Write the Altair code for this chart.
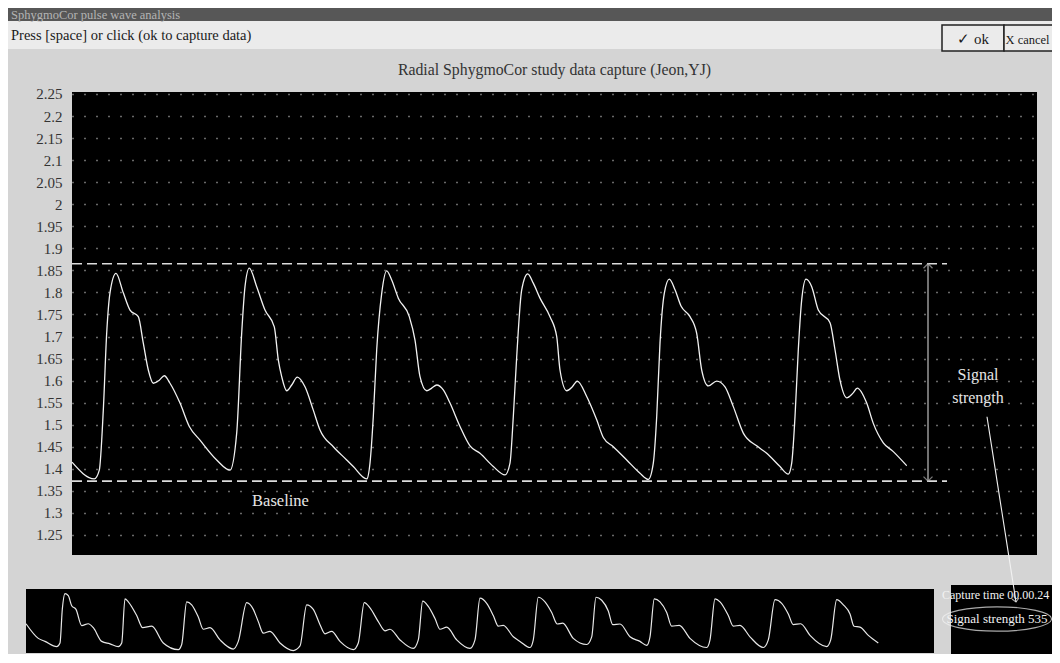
import altair as alt
import pandas as pd

FONT = "Liberation Serif"

# ---------------- texts ----------------
window_title = "SphygmoCor pulse wave analysis"
prompt_text = "Press [space] or click (ok to capture data)"
ok_label = "\u2713 ok"
cancel_label = "X cancel"
chart_title = "Radial SphygmoCor study data capture (Jeon,YJ)"
capture_time_label = "Capture time 00.00.24"
signal_label = "Signal strength 535"
baseline_label = "Baseline"
signal_strength_lines = ["Signal", "strength"]

# ---------------- y tick labels ----------------
y_ticks = [2.25, 2.2, 2.15, 2.1, 2.05, 2.0, 1.95, 1.9, 1.85, 1.8, 1.75, 1.7,
           1.65, 1.6, 1.55, 1.5, 1.45, 1.4, 1.35, 1.3, 1.25]

# ---------------- main radial waveform (sample, value) ----------------
wave_t = [0, 22.3, 27.3, 31.3, 34.7, 38, 44, 51.3, 58, 66.3, 71.3, 76.3, 81.3, 87.3, 92.3, 98,
          108, 117.3, 128, 144.7, 158,
          164.7, 169.7, 173, 177.3, 184.7, 193, 202.3, 206.3, 209.7, 214.7, 219.7, 225.3, 233,
          241.3, 248, 261.3, 274.7, 281.3, 294.7,
          298, 301.3, 304.7, 309.7, 314.7, 319.7, 326.3, 337.3, 343, 348, 354.7, 359.7, 364.7,
          371.3, 378, 388, 398, 408, 421.3, 433,
          438, 441.3, 444.7, 449.7, 455.7, 461.3, 468, 478, 484.7, 488, 494.7, 500.3, 505.3,
          514.7, 524.7, 531.3, 541.3, 554.7, 568, 576.3,
          581.3, 584.7, 588, 592.3, 597.3, 603, 609, 618, 624.7, 629.7, 636.3, 644.7, 653,
          661.3, 671.3, 684.7, 694.7, 708, 716.3,
          719.7, 723, 726.3, 729.7, 734, 739.7, 746.3, 758, 763, 768, 774.7, 780.7, 785.3,
          794.7, 801.3, 811.3, 821.3, 834.7]
wave_v = [1.415, 1.377, 1.397, 1.533, 1.708, 1.799, 1.843, 1.799, 1.760, 1.745, 1.685, 1.624,
          1.594, 1.601, 1.611, 1.594, 1.549, 1.496, 1.465, 1.420, 1.397,
          1.481, 1.708, 1.813, 1.855, 1.813, 1.760, 1.722, 1.647, 1.609, 1.577, 1.590, 1.608,
          1.586, 1.533, 1.488, 1.450, 1.420, 1.405, 1.377,
          1.413, 1.518, 1.670, 1.798, 1.849, 1.828, 1.787, 1.745, 1.692, 1.609, 1.577, 1.583,
          1.590, 1.579, 1.549, 1.496, 1.452, 1.435, 1.405, 1.386,
          1.413, 1.518, 1.654, 1.806, 1.842, 1.821, 1.787, 1.745, 1.700, 1.624, 1.577, 1.586,
          1.599, 1.564, 1.511, 1.471, 1.450, 1.420, 1.390, 1.376,
          1.413, 1.518, 1.685, 1.798, 1.830, 1.806, 1.769, 1.745, 1.707, 1.624, 1.588, 1.599,
          1.586, 1.541, 1.481, 1.452, 1.435, 1.405, 1.388,
          1.413, 1.518, 1.670, 1.783, 1.830, 1.813, 1.760, 1.731, 1.670, 1.601, 1.561, 1.571,
          1.583, 1.549, 1.503, 1.459, 1.439, 1.407]

# ---------------- overview strip waveform (sample, amplitude) ----------------
strip_t = [0, 12.3, 19, 30.7, 34, 36.3, 39, 42.3, 45.7, 50, 55.7, 62.3, 67.3, 75.7, 84, 92.3,
           95.7, 99, 102.3, 110.7, 116.7, 125.7, 137.3, 152.3,
           155.7, 160.7, 165.7, 172.3, 177.3, 184, 194, 207.3,
           212.3, 220.7, 227.3, 232.3, 237.3, 244, 254, 267.3,
           274, 280.7, 287.3, 294, 299, 305.7, 314, 327.3,
           332.3, 338.3, 344, 352.3, 359, 364, 374, 387.3,
           392.3, 396.7, 402.3, 409, 414, 420.7, 430.7, 444,
           449, 454, 460.7, 467.3, 472.3, 477.3, 487.3, 494, 504,
           507.3, 512.3, 519, 525.7, 531.3, 536.7, 547.3, 560.7,
           565.7, 570, 575.7, 582.3, 586.7, 594, 604, 614, 620.7,
           624, 628.3, 634, 640.7, 645.7, 653.3, 664, 680.7,
           684, 689, 694, 702.3, 707.3, 714, 724, 737.3,
           742.3, 749, 755.7, 762.3, 767.3, 774.7, 784, 800.7,
           804.7, 810.7, 817.3, 824, 828, 834, 842.3, 852.3]
strip_a = [32, 16, 12.7, 7, 11, 47.7, 65, 62.7, 51.7, 47.7, 30, 32, 27.7, 12.7, 10, 7,
           11, 59.3, 56, 41, 27.7, 29.3, 11, 3.7,
           9.3, 56, 52.7, 39.3, 26, 27.7, 14.3, 4.3,
           12.7, 55, 47.7, 34.3, 21.7, 23.7, 11, 2.7,
           7.7, 52.7, 47.7, 31, 21, 23.7, 12.7, 3.7,
           11, 55, 49.3, 34.3, 24.3, 26, 14.3, 5,
           14.3, 56.7, 51, 37.7, 26, 28.3, 14.3, 5,
           14.3, 60, 54.3, 41, 29.3, 30.3, 17.7, 12.7, 6,
           14.3, 61, 56, 44.3, 31.7, 32.7, 16, 9.3,
           17.7, 61, 57.7, 46, 31, 31.7, 17.7, 12.7, 8.3,
           17.7, 59.3, 56, 44.3, 29.3, 30.3, 16, 6,
           14.3, 59.3, 56, 41, 29.3, 30.3, 17.7, 6,
           14.3, 58.3, 54.3, 42.7, 31, 32, 19.3, 7,
           14.3, 58.3, 52.7, 42.7, 29.3, 28.3, 19.3, 11]

# ---------------- annotation values ----------------
top_level = 1.865
base_level = 1.372
level_extent = [0, 875]
arrow_t = 856
pointer_t = [915, 944]
pointer_v = [1.518, 1.098]
baseline_label_t = 208.5
baseline_label_v = 1.327
signal_text_t = 906
signal_text_v = [1.613, 1.561]

# ---------------- scales ----------------
X_MAIN = alt.Scale(domain=[0, 965], nice=False, zero=False)
Y_MAIN = alt.Scale(domain=[1.2045, 2.2545], nice=False, zero=False)
X_STRIP = alt.Scale(domain=[0, 908], range=[-46, 862], nice=False, zero=False)
Y_STRIP = alt.Scale(domain=[0, 70], range=[561, 497], nice=False, zero=False)

one = pd.DataFrame({"k": [0]})


def box(x0, x1, y0, y1, **kw):
    return alt.Chart(one).mark_rect(**kw).encode(
        x=alt.value(x0), x2=alt.value(x1), y=alt.value(y0), y2=alt.value(y1))


def label(text, x, y, size=15, color="#222", align="left", baseline="alphabetic"):
    return alt.Chart(pd.DataFrame({"label": [text]})).mark_text(
        font=FONT, fontSize=size, color=color, align=align, baseline=baseline
    ).encode(x=alt.value(x), y=alt.value(y), text="label:N")


# header
dark_bar = box(-64, 990, -84, -71, color="#575757")
light_bar = box(-64, 990, -71, -43, color="#ebebeb")
ok_btn = box(870, 932, -67, -41, fill="#ebebeb", stroke="#222", strokeWidth=1.5)
cancel_btn = box(932, 992, -67, -41, fill="#ebebeb", stroke="#222", strokeWidth=1.5)
t_window = label(window_title, -61, -72.8, size=12.5, color="#b4b4b4")
t_prompt = label(prompt_text, -61, -52, size=14.5, color="#1a1a1a")
t_ok = label(ok_label, 901, -48, color="#1a1a1a", align="center")
t_cancel = label(cancel_label, 933.5, -48, size=12.5, color="#1a1a1a")
t_title = label(chart_title, 482.5, -17, size=15.8, color="#333", align="center")

# main waveform with y axis and dotted grid
wave_df = pd.DataFrame({"t": wave_t, "v": wave_v})
wave = alt.Chart(wave_df).mark_line(color="#f2f2f2", strokeWidth=1.3, interpolate="monotone").encode(
    x=alt.X("t:Q", scale=X_MAIN, axis=None),
    y=alt.Y("v:Q", scale=Y_MAIN, title=None, axis=alt.Axis(
        orient="left", values=y_ticks, format=".3~g", ticks=False, domain=False,
        labelFont=FONT, labelFontSize=15, labelColor="#333", labelPadding=10,
        grid=True, gridColor="#d0d0d0", gridDash=[1, 11], gridWidth=1.3)),
)

levels_df = pd.DataFrame({"t0": [level_extent[0]] * 2, "t1": [level_extent[1]] * 2,
                          "v": [top_level, base_level]})
levels = alt.Chart(levels_df).mark_rule(color="#dcdcdc", strokeWidth=1.7, strokeDash=[10, 5]).encode(
    x=alt.X("t0:Q", scale=X_MAIN, axis=None), x2="t1:Q",
    y=alt.Y("v:Q", scale=Y_MAIN, axis=None))

span_df = pd.DataFrame({"t": [arrow_t], "v0": [top_level], "v1": [base_level]})
span = alt.Chart(span_df).mark_rule(color="#b0b0b0", strokeWidth=1.3).encode(
    x=alt.X("t:Q", scale=X_MAIN, axis=None),
    y=alt.Y("v0:Q", scale=Y_MAIN, axis=None), y2="v1:Q")
head_up = alt.Chart(pd.DataFrame({"t": [arrow_t], "v": [top_level]})).mark_point(
    shape="M-1,1L0,0L1,1", size=81, color="#b0b0b0", strokeWidth=1.3, filled=False).encode(
    x=alt.X("t:Q", scale=X_MAIN, axis=None), y=alt.Y("v:Q", scale=Y_MAIN, axis=None))
head_down = alt.Chart(pd.DataFrame({"t": [arrow_t], "v": [base_level]})).mark_point(
    shape="M-1,-1L0,0L1,-1", size=81, color="#b0b0b0", strokeWidth=1.3, filled=False).encode(
    x=alt.X("t:Q", scale=X_MAIN, axis=None), y=alt.Y("v:Q", scale=Y_MAIN, axis=None))

base_txt = alt.Chart(pd.DataFrame({"t": [baseline_label_t], "v": [baseline_label_v],
                                   "label": [baseline_label]})).mark_text(
    font=FONT, fontSize=16.5, color="#e6e6e6", baseline="middle").encode(
    x=alt.X("t:Q", scale=X_MAIN, axis=None), y=alt.Y("v:Q", scale=Y_MAIN, axis=None), text="label:N")
sig_txt = alt.Chart(pd.DataFrame({"t": [signal_text_t] * 2, "v": signal_text_v,
                                  "label": signal_strength_lines})).mark_text(
    font=FONT, fontSize=16, color="#e6e6e6", baseline="middle").encode(
    x=alt.X("t:Q", scale=X_MAIN, axis=None), y=alt.Y("v:Q", scale=Y_MAIN, axis=None), text="label:N")

# overview strip
strip_bg = box(-46, 862, 497, 561, color="#000000")
strip_df = pd.DataFrame({"t": strip_t, "a": strip_a})
strip = alt.Chart(strip_df).mark_line(color="#e8e8e8", strokeWidth=1.2, interpolate="monotone").encode(
    x=alt.X("t:Q", scale=X_STRIP, axis=None),
    y=alt.Y("a:Q", scale=Y_STRIP, axis=None))

# info box
info_bg = box(879, 990, 493, 570, color="#000000")
t_capture = label(capture_time_label, 870, 507, size=12, color="#f2f2f2")
t_signal = label(signal_label, 925, 527, size=13, color="#f2f2f2", align="center", baseline="middle")
ellipse = alt.Chart(one).mark_point(
    shape="M-1,0C-1,-0.124,-0.552,-0.224,0,-0.224C0.552,-0.224,1,-0.124,1,0"
          "C1,0.124,0.552,0.224,0,0.224C-0.552,0.224,-1,0.124,-1,0Z",
    size=11881, color="#f2f2f2", strokeWidth=1.2, filled=False).encode(
    x=alt.value(925), y=alt.value(527))

# pointer from the "Signal strength" label to the readout
pointer_df = pd.DataFrame({"t": pointer_t, "v": pointer_v})
pointer = alt.Chart(pointer_df).mark_line(color="#f2f2f2", strokeWidth=1.1, clip=False).encode(
    x=alt.X("t:Q", scale=X_MAIN, axis=None), y=alt.Y("v:Q", scale=Y_MAIN, axis=None))
pointer_head = alt.Chart(pd.DataFrame({"t": [pointer_t[1]], "v": [pointer_v[1]]})).mark_point(
    shape="M-1,-1L0,0L1,-1", size=49, angle=351, color="#f2f2f2", strokeWidth=1.1,
    filled=False, clip=False).encode(
    x=alt.X("t:Q", scale=X_MAIN, axis=None), y=alt.Y("v:Q", scale=Y_MAIN, axis=None))

chart = alt.layer(
    wave, dark_bar, light_bar, ok_btn, cancel_btn, t_window, t_prompt, t_ok, t_cancel, t_title,
    levels, span, head_up, head_down, base_txt, sig_txt,
    strip_bg, strip, info_bg, t_capture, t_signal, ellipse, pointer, pointer_head,
).resolve_scale(x="independent", y="independent").properties(
    width=965, height=463,
    autosize=alt.AutoSizeParams(type="none"),
    padding={"left": 64, "top": 84, "right": 15, "bottom": 99},
    background="#d4d4d4",
).configure_view(fill="#000000", strokeWidth=0).configure_text(font=FONT)

chart.save("out.html", embed_options={"renderer": "svg", "actions": False})
